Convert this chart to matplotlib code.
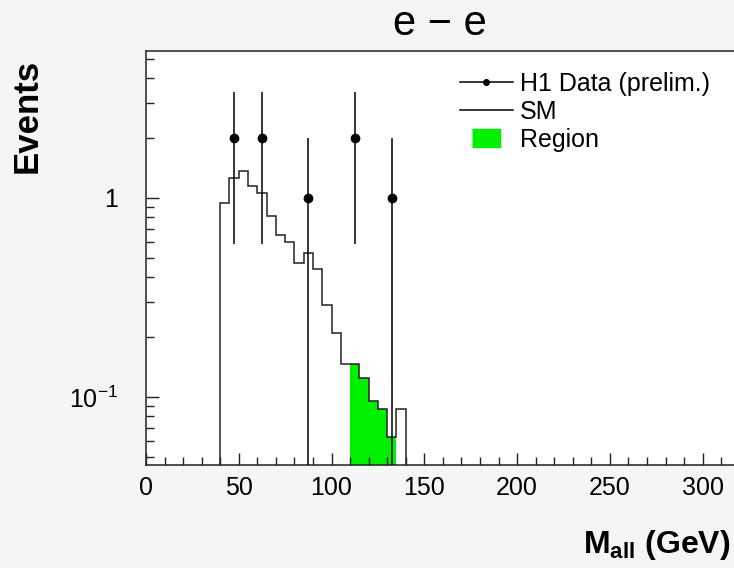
"""H1 general search style mass distribution: e-e channel, M_all."""
import matplotlib
matplotlib.use('Agg')
import matplotlib.pyplot as plt
from matplotlib.lines import Line2D
from matplotlib.ticker import MultipleLocator, LogLocator, FuncFormatter, NullFormatter

# SM expectation, 5 GeV bins from 40 to 140 GeV
SM_EDGES = [40, 45, 50, 55, 60, 65, 70, 75, 80, 85, 90, 95, 100, 105, 110,
            115, 120, 125, 130, 135, 140]
SM_VALUES = [0.94, 1.26, 1.36, 1.15, 1.06, 0.81, 0.65, 0.60, 0.47, 0.53,
             0.44, 0.29, 0.21, 0.146, 0.146, 0.124, 0.095, 0.087, 0.063, 0.087]

# region of greatest deviation (filled)
REGION_EDGES = [110, 115, 120, 125, 130, 135]
REGION_VALUES = [0.146, 0.124, 0.095, 0.087, 0.063]

# data points
DATA_X = [47.5, 62.5, 87.5, 112.5, 132.5]
DATA_Y = [2, 2, 1, 2, 1]
DATA_ERR = [1.414, 1.414, 1.0, 1.414, 1.0]

BG = '#f5f5f5'
INK = '#222222'
GREEN = '#00f000'

plt.rcParams.update({
    'font.family': ['Liberation Sans', 'DejaVu Sans'],
    'mathtext.fontset': 'custom',
    'mathtext.rm': 'Liberation Sans',
    'mathtext.bf': 'Liberation Sans:bold',
    'mathtext.it': 'Liberation Sans:italic',
})

W, H = 734, 568
fig = plt.figure(figsize=(W / 100, H / 100), dpi=100, facecolor=BG)
ax = fig.add_axes([146 / W, 1 - 465 / H, 603 / W, 414 / H])
ax.set_facecolor('white')

ax.stairs(REGION_VALUES, REGION_EDGES, baseline=1e-4, fill=True,
          color=GREEN, lw=0, zorder=1)
ax.stairs(SM_VALUES, SM_EDGES, baseline=1e-4, color=INK, lw=1.1, zorder=2)
lower = [min(e, v * 0.9999) for e, v in zip(DATA_ERR, DATA_Y)]
ax.errorbar(DATA_X, DATA_Y, yerr=[lower, DATA_ERR],
            fmt='o', color='black', ms=6, elinewidth=1.1, capsize=0, zorder=3)

ax.set_yscale('log')
ax.set_xlim(0, 325)
ax.set_ylim(0.0455, 5.48)

ax.xaxis.set_major_locator(MultipleLocator(50))
ax.xaxis.set_minor_locator(MultipleLocator(10))
ax.yaxis.set_major_locator(LogLocator(base=10))
ax.yaxis.set_minor_locator(LogLocator(base=10, subs=range(2, 10)))
ax.yaxis.set_minor_formatter(NullFormatter())
ax.yaxis.set_major_formatter(FuncFormatter(
    lambda v, p: '1' if abs(v - 1) < 1e-9 else ('$10^{-1}$' if abs(v - 0.1) < 1e-9 else '')))

ax.tick_params(which='both', direction='in', top=False, right=False, color=INK)
ax.tick_params(axis='x', which='major', length=9, width=1, pad=8, labelsize=18)
ax.tick_params(axis='x', which='minor', length=5.5, width=1)
ax.tick_params(axis='y', which='major', length=9, width=1, pad=20, labelsize=18)
ax.tick_params(axis='y', which='minor', length=5.5, width=1)
for s in ax.spines.values():
    s.set_color(INK)
    s.set_linewidth(1.1)

fig.text(440 / W, 1 - 24 / H, 'e \u2212 e', ha='center', va='center', fontsize=30)
fig.text(27 / W, 1 - 116 / H, 'Events', rotation=90, ha='center', va='center',
         fontsize=25, fontweight='bold')
fig.text(730 / W, 1 - 553 / H, r'$\mathbf{M_{all}}$ (GeV)', ha='right', va='baseline',
         fontsize=23, fontweight='bold')

handles = [
    Line2D([], [], color='black', lw=1.1, marker='o', ms=4),
    Line2D([], [], color='black', lw=1.1),
    Line2D([], [], ls='none', marker=[(-1, -0.64), (1, -0.64), (1, 0.64), (-1, 0.64)],
           ms=20, color=GREEN, mec=GREEN),
]
ax.legend(handles, ['H1 Data (prelim.)', 'SM', 'Region'], loc='upper left',
          bbox_to_anchor=(460 / W, 1 - 72 / H), bbox_transform=fig.transFigure,
          frameon=False, fontsize=18, handlelength=2.1, handletextpad=0.3,
          labelspacing=0.15, borderpad=0, borderaxespad=0)

fig.savefig('out.png', dpi=100, facecolor=BG)
